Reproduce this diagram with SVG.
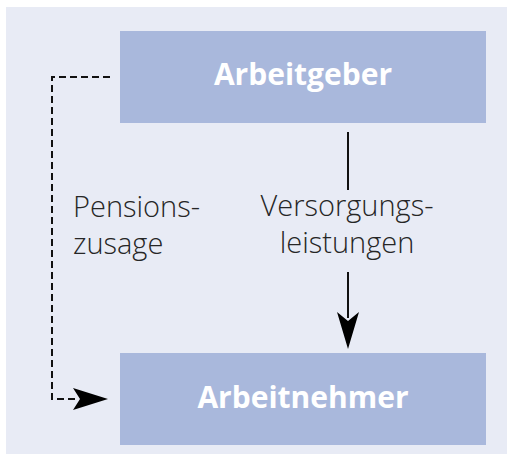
<svg xmlns="http://www.w3.org/2000/svg" width="513" height="461" viewBox="0 0 513 461">
  <style>
    .box { fill: #a9b8dc; }
    .boxlabel { font-family: "Open Sans", "Liberation Sans", sans-serif; font-weight: bold; font-size: 30px; fill: #ffffff; text-anchor: middle; }
    .label { font-family: "Open Sans", "Liberation Sans", sans-serif; font-weight: 300; font-size: 29px; fill: #262626; }
    .solid { stroke: #111; stroke-width: 2; fill: none; }
    .dashed { stroke: #111; stroke-width: 2; fill: none; stroke-dasharray: 7 4; }
    .head { fill: #000; }
  </style>
  <rect x="6" y="7" width="501" height="447" fill="#e8ebf5"/>
  <g id="arbeitgeber">
    <rect class="box" x="120" y="31" width="366" height="92"/>
    <text class="boxlabel" x="303" y="85">Arbeitgeber</text>
  </g>
  <g id="arbeitnehmer">
    <rect class="box" x="120" y="353" width="366" height="92"/>
    <text class="boxlabel" x="303" y="408">Arbeitnehmer</text>
  </g>
  <g id="connectors">
    <path class="dashed" d="M110 77 H52 V399 H76"/>
    <path class="head" d="M108 399 L73 388 L80 399 L73 410 Z"/>
    <line class="solid" x1="348" y1="132" x2="348" y2="190"/>
    <line class="solid" x1="348" y1="272" x2="348" y2="318"/>
    <path class="head" d="M348 349 L337 312 L348 321 L359 312 Z"/>
    <text class="label" x="73" y="217">Pensions-</text>
    <text class="label" x="73" y="254">zusage</text>
    <text class="label" x="347" y="216" text-anchor="middle">Versorgungs-</text>
    <text class="label" x="347" y="253" text-anchor="middle">leistungen</text>
  </g>
</svg>
